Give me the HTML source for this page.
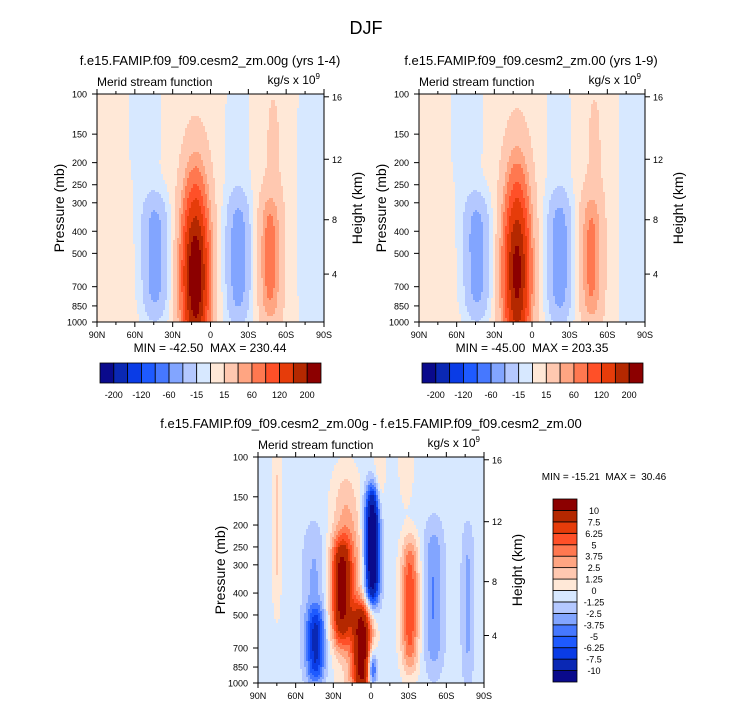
<!DOCTYPE html>
<html><head><meta charset="utf-8">
<style>
body{margin:0;background:#fff;}
svg text{font-family:"Liberation Sans",Arial,sans-serif;fill:#000;white-space:pre;}
</style></head>
<body>
<svg id="fig" xmlns="http://www.w3.org/2000/svg" width="733" height="708" viewBox="0 0 733 708">
<rect width="733" height="708" fill="#fff"/>
<text x="366" y="34" font-size="18" text-anchor="middle">DJF</text>
</svg>
<script>
// ---------- data ----------
const latTicks=[90,60,30,0,-30,-60,-90];
const latTickLabels=['90N','60N','30N','0','30S','60S','90S'];
const presTicks=[100,150,200,250,300,400,500,700,850,1000];
const heightTicks=[4,8,12,16];
const colors=['#0a0a8c','#0a28b4','#0a3ce6','#1e5aff','#4678ff','#82a5ff','#b4c8ff','#d7e8ff','#ffe8d7','#ffc8b0','#ffa582','#ff7850','#ff5028','#e63c0a','#b42800','#8c0000'];
const levelsAbs=[-200,-160,-120,-90,-60,-40,-15,0,15,40,60,90,120,160,200];
const levelsDiff=[-10,-7.5,-6.25,-5,-3.75,-2.5,-1.25,0,1.25,2.5,3.75,5,6.25,7.5,10];
const absLabels=['-200','-120','-60','-15','15','60','120','200'];
const diffLabels=['-10','-7.5','-6.25','-5','-3.75','-2.5','-1.25','0','1.25','2.5','3.75','5','6.25','7.5','10'];

// panel A blobs (lat, pressure mb, amplitude, lat width, log-p width, log-p power)
const aLat=[12,44,-22,-47,52,-22,-50,-85];
const aP=[630,525,525,525,130,300,300,300];
const aAmp=[240,-58,-50,56,-12,-12,12,-15];
const aLatW=[7.5,7,6.5,5.5,10,8,9,12];
const aSW=[0.28,0.23,0.23,0.23,0.3,0.6,0.6,0.7];
const aPow=[2,4,4,4,2,4,4,4];
const aBase=5;
// panel B
const bLat=[12,44,-22,-47,52,-22,-50,-85];
const bP=[600,525,525,525,130,300,300,300];
const bAmp=[212,-58,-52,52,-12,-12,12,-15];
const bLatW=[7.5,7,6.5,5.5,10,8,9,12];
const bSW=[0.29,0.23,0.23,0.23,0.3,0.6,0.6,0.7];
const bPow=[2,4,4,4,2,4,4,4];
const bBase=5;
// panel C (difference)
const cLat=[7,24,20,-1,-1,44,45,-31,-50,-77,75,-7,-28,17];
const cP=[720,400,250,250,870,680,450,450,420,450,200,120,110,500];
const cAmp=[11,8,3,-13,-8,-5.5,-2.2,6.5,-3.2,-2.2,2,2,1.8,2];
const cLatW=[5.5,5.5,8,4,2.5,5,6.5,5,5.5,3.5,2.5,3,4,10];
const cSW=[0.18,0.2,0.3,0.22,0.06,0.14,0.3,0.25,0.28,0.3,0.35,0.15,0.12,0.35];
const cPow=[4,4,4,4,2,4,4,4,4,4,4,2,2,4];
const cBase=-0.6;

// ---------- drawing ----------
const NS='http://www.w3.org/2000/svg';
const svg=document.getElementById('fig');
function el(tag,attrs,parent){const e=document.createElementNS(NS,tag);for(const k in attrs)e.setAttribute(k,attrs[k]);(parent||svg).appendChild(e);return e;}
function txt(x,y,s,size,anchor,parent,rot){const t=el('text',{x:x,y:y,'font-size':size,'text-anchor':anchor||'start'},parent);if(rot)t.setAttribute('transform','rotate(-90 '+x+' '+y+')');t.textContent=s;return t;}
function presFromHeight(km){const z=km*1000;if(z<=11000)return 1013.25*Math.pow(1-2.2558e-5*z,5.256);return 226.32*Math.exp(-(z-11000)/6341.6);}
function field(lat,p,L,P,A,LW,SW,PW,base){const s=Math.log10(p/100);let v=base;for(let k=0;k<L.length;k++){const s0=Math.log10(P[k]/100);const dl=(lat-L[k])/LW[k],ds=Math.abs(s-s0)/SW[k];v+=A[k]*Math.exp(-0.5*(dl*dl+Math.pow(ds,PW[k])));}return v;}
function levelIndex(v,lv){let i=0;while(i<lv.length&&v>=lv[i])i++;return i;}

function panel(name,ox,oy,w,h,L,P,A,LW,SW,PW,base,lv,title,tx){
  const g=el('g',{},svg);
  
  
  const X=lat=>ox+(90-lat)/180*w;
  const Y=p=>oy+h*Math.log10(p/100);
  const cg=el('g',{'shape-rendering':'crispEdges'},g);
  
  
  const cell=2;const nx=Math.ceil(w/cell),ny=Math.ceil(h/cell);
  for(let j=0;j<ny;j++){
    const yy=oy+j*cell;const ph=Math.min(cell,oy+h-yy);
    const p=100*Math.pow(10,(j*cell+ph/2)/h);
    let start=0,cur=-1;
    for(let i=0;i<=nx;i++){
      let idx=-2;
      if(i<nx){const lat=90-(i*cell+cell/2)/w*180;idx=levelIndex(field(lat,p,L,P,A,LW,SW,PW,base),lv);}
      if(idx!==cur){
        if(cur>=0){const x0=ox+start*cell;const x1=Math.min(ox+i*cell,ox+w);
          const r=el('rect',{x:x0,y:yy,width:x1-x0,height:ph+0.3,fill:colors[cur]},cg);
          
          }
        cur=idx;start=i;}
    }
  }
  const fr=el('rect',{x:ox,y:oy,width:w,height:h,fill:'none',stroke:'#000','stroke-width':1},g);
  
  
  for(let lat=90;lat>=-90;lat-=15){const x=X(lat);const major=(lat%30===0);const tl=major?5:3;
    el('line',{x1:x,y1:oy+h,x2:x,y2:oy+h+tl,stroke:'#000'},g);
    el('line',{x1:x,y1:oy,x2:x,y2:oy-tl,stroke:'#000'},g);}
  latTicks.forEach((lat,i)=>{const t=txt(X(lat),oy+h+16,latTickLabels[i],9,'middle',g);
    
    });
  presTicks.forEach(p=>{const y=Y(p);el('line',{x1:ox-5,y1:y,x2:ox,y2:y,stroke:'#000'},g);
    const t=txt(ox-10,y+3.5,String(p),9,'end',g);
    
    });
  heightTicks.forEach(km=>{const y=Y(presFromHeight(km));el('line',{x1:ox+w,y1:y,x2:ox+w+5,y2:y,stroke:'#000'},g);
    const t=txt(ox+w+8,y+3.5,String(km),9,'start',g);
    
    });
  const m=txt(ox,oy-8,'Merid stream function',12,'start',g);
  
  
  const u=el('text',{x:ox+w-4,y:oy-10,'font-size':12,'text-anchor':'end'},g);
  
  
  u.innerHTML='kg/s x 10<tspan dy="-5" font-size="8">9</tspan>';
  const yt=txt(ox-33,oy+h/2,'Pressure (mb)',14,'middle',g,true);
  
  
  const ht=txt(ox+w+38,oy+h/2,'Height (km)',14,'middle',g,true);
  
  
  const tt=txt(tx,oy-29,title,13,'middle',g);
  
  
}
function hbar(name,x0,y0,w,h){
  const g=el('g',{},svg);
  
  
  const bw=w/16;
  colors.forEach((c,i)=>{const r=el('rect',{x:x0+i*bw,y:y0,width:bw,height:h,fill:c,stroke:'#000','stroke-width':0.8},g);
    
    });
  absLabels.forEach((s,k)=>{const t=txt(x0+(2*k+1)*bw,y0+h+15,s,9,'middle',g);
    
    });
}
function vbar(name,x0,y0,w,h){
  const g=el('g',{},svg);
  
  
  const bh=h/16;
  colors.forEach((c,i)=>{const r=el('rect',{x:x0,y:y0+(15-i)*bh,width:w,height:bh,fill:c,stroke:'#000','stroke-width':0.8},g);
    
    });
  diffLabels.forEach((s,k)=>{const t=txt(x0+w+17,y0+(15-k)*bh+3.5,s,9,'middle',g);
    
    });
}

panel('panel-test',97,94,227,228,aLat,aP,aAmp,aLatW,aSW,aPow,aBase,levelsAbs,'f.e15.FAMIP.f09_f09.cesm2_zm.00g (yrs 1-4)',210);
panel('panel-control',419,94,226,228,bLat,bP,bAmp,bLatW,bSW,bPow,bBase,levelsAbs,'f.e15.FAMIP.f09_f09.cesm2_zm.00 (yrs 1-9)',531);
panel('panel-difference',258,457,226,226,cLat,cP,cAmp,cLatW,cSW,cPow,cBase,levelsDiff,'f.e15.FAMIP.f09_f09.cesm2_zm.00g - f.e15.FAMIP.f09_f09.cesm2_zm.00',371);

let t;
t=txt(210,352,'MIN = -42.50  MAX = 230.44',12,'middle');


t=txt(532,352,'MIN = -45.00  MAX = 203.35',12,'middle');


t=txt(604,480,'MIN = -15.21  MAX =  30.46',10,'middle');



hbar('colorbar-test',100,363,221,20);
hbar('colorbar-control',422,363,221,20);
vbar('colorbar-difference',553,499,24,183);
</script>
</body></html>
